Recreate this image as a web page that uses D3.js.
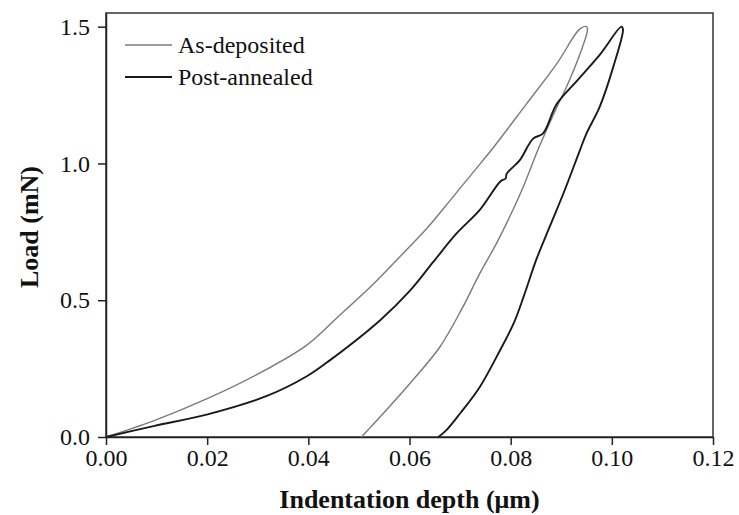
<!DOCTYPE html>
<html>
<head>
  <meta charset="utf-8">
  <title>load - depth</title>
  <script src="https://d3js.org/d3.v7.min.js"></script>
  <style>
    body { margin: 0; background: #fff; }
    svg text { font-family: "Liberation Serif", "Times New Roman", serif; fill: #111; }
  </style>
</head>
<body>

<div id="grafico"></div>

<script>
// curves: loading branch then unloading branch
var asDepth = [0, 0.0094, 0.0200, 0.0298, 0.0397, 0.0462, 0.0525, 0.0581, 0.0634, 0.0686, 0.0742, 0.0762, 0.0831, 0.0891, 0.0937, 0.0950,
               0.0952, 0.0937, 0.0907, 0.0894, 0.0856, 0.0825, 0.0798, 0.0772, 0.0739, 0.0704, 0.0660, 0.0605, 0.0548, 0.0515, 0.0505];
var asLoad  = [0, 0.059, 0.140, 0.228, 0.336, 0.445, 0.553, 0.659, 0.762, 0.878, 1.004, 1.049, 1.217, 1.364, 1.492, 1.500,
               1.490, 1.400, 1.266, 1.217, 1.059, 0.915, 0.805, 0.708, 0.598, 0.470, 0.329, 0.205, 0.086, 0.020, 0];

var postDepth = [0, 0.0094, 0.0199, 0.0318, 0.0397, 0.0443, 0.0542, 0.0601, 0.0647, 0.0693, 0.0739, 0.0780, 0.0790, 0.0792, 0.0818, 0.0844, 0.0864, 0.0891, 0.0930, 0.0976, 0.1019,
                 0.1022, 0.1003, 0.0976, 0.0950, 0.0937, 0.0907, 0.0877, 0.0851, 0.0826, 0.0807, 0.0779, 0.0739, 0.0700, 0.0673, 0.0657];
var postLoad  = [0, 0.040, 0.082, 0.150, 0.222, 0.281, 0.427, 0.535, 0.640, 0.744, 0.830, 0.935, 0.945, 0.962, 1.012, 1.090, 1.110, 1.217, 1.300, 1.397, 1.500,
                 1.490, 1.354, 1.207, 1.110, 1.049, 0.903, 0.768, 0.650, 0.515, 0.420, 0.317, 0.183, 0.086, 0.025, 0];

var xTicks = [0, 0.02, 0.04, 0.06, 0.08, 0.10, 0.12];
var yTicks = [0, 0.5, 1.0, 1.5];
var nombres = ["As-deposited", "Post-annealed"];
var colores = ["#7a7a7a", "#1a1a1a"];

var W = 739, H = 515;
var m = { left: 106, right: 26, top: 13, bottom: 78 };

var svg = d3.select("div#grafico").append("svg")
  .attr("width", W)
  .attr("height", H);

var x = d3.scaleLinear().domain([0, 0.12]).range([m.left, W - m.right]);
var y = d3.scaleLinear().domain([0, 1.55]).range([H - m.bottom, m.top]);

// frame
svg.append("rect")
  .attr("x", x(0)).attr("y", y(1.55))
  .attr("width", x(0.12) - x(0)).attr("height", y(0) - y(1.55))
  .attr("fill", "none").attr("stroke", "#333").attr("stroke-width", 1.5);

var ejeX = svg.append("g")
  .attr("transform", "translate(0," + y(0) + ")")
  .call(d3.axisBottom(x).tickValues(xTicks).tickFormat(d3.format(".2f")).tickSize(8).tickSizeOuter(0).tickPadding(4));

var ejeY = svg.append("g")
  .attr("transform", "translate(" + x(0) + ",0)")
  .call(d3.axisLeft(y).tickValues(yTicks).tickFormat(d3.format(".1f")).tickSize(8).tickSizeOuter(0).tickPadding(8));

[ejeX, ejeY].forEach(function(g) {
  g.select(".domain").attr("stroke", "#222").attr("stroke-width", 1.5);
  g.selectAll(".tick line").attr("stroke", "#222").attr("stroke-width", 1.5);
  g.selectAll(".tick text")
    .attr("font-family", "Liberation Serif, Times New Roman, serif")
    .attr("font-size", 24)
    .attr("fill", "#111");
});

var linea = d3.line()
  .x(function(d) { return x(d[0]); })
  .y(function(d) { return y(d[1]); })
  .curve(d3.curveCatmullRom.alpha(0.5));

var series = [
  d3.zip(asDepth, asLoad),
  d3.zip(postDepth, postLoad)
];

svg.selectAll("path.curva").data(series).enter().append("path")
  .attr("class", "curva")
  .attr("d", linea)
  .attr("fill", "none")
  .attr("stroke", function(d, i) { return colores[i]; })
  .attr("stroke-width", function(d, i) { return i == 0 ? 1.4 : 1.9; })
  .attr("stroke-linejoin", "round");

// legend
var ley = svg.selectAll("g.ley").data(nombres).enter().append("g")
  .attr("class", "ley")
  .attr("transform", function(d, i) { return "translate(125," + (45 + i * 32) + ")"; });

ley.append("line")
  .attr("x1", 0).attr("x2", 47)
  .attr("stroke", function(d, i) { return colores[i]; })
  .attr("stroke-width", function(d, i) { return i == 0 ? 1.4 : 1.9; });

ley.append("text")
  .attr("x", 53).attr("dy", "0.34em")
  .attr("font-size", 24)
  .text(function(d) { return d; });

// axis titles
svg.append("text")
  .attr("x", (x(0) + x(0.12)) / 2).attr("y", 508)
  .attr("text-anchor", "middle")
  .attr("font-size", 26).attr("font-weight", "bold")
  .text("Indentation depth (\u03bcm)");

svg.append("text")
  .attr("transform", "translate(38," + ((y(0) + y(1.55)) / 2 + 2) + ") rotate(-90)")
  .attr("text-anchor", "middle")
  .attr("font-size", 26).attr("font-weight", "bold")
  .text("Load (mN)");
</script>
</body>
</html>
